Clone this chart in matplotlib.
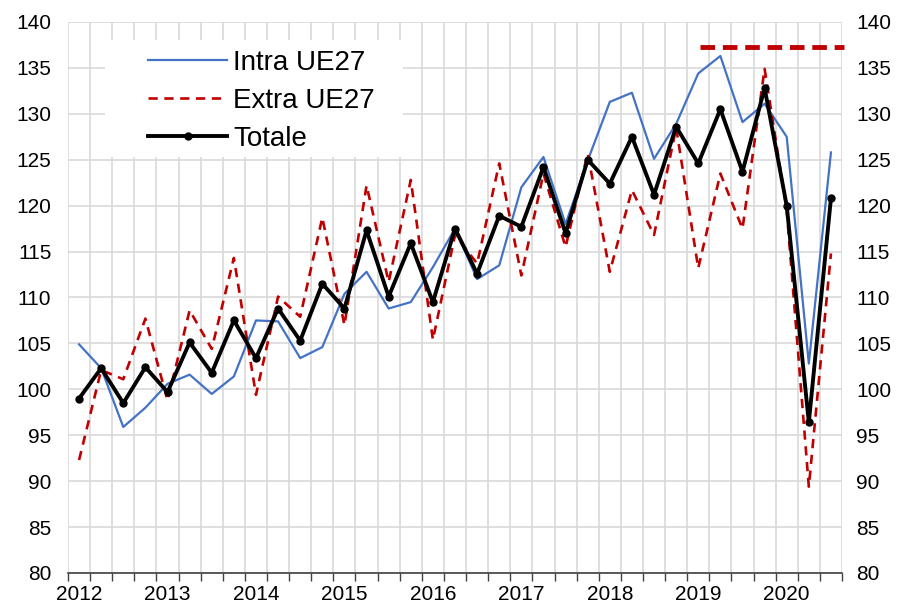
import numpy as np
import matplotlib.pyplot as plt
from matplotlib.ticker import FixedLocator
from matplotlib.patches import Rectangle

# quarterly indices, 2012Q1 .. 2020Q3
years = [str(y) for y in range(2012, 2021)]
intra = [104.9, 102.3, 95.9, 98.0, 100.6, 101.6, 99.5, 101.4, 107.5, 107.4,
         103.4, 104.6, 110.4, 112.8, 108.8, 109.5, 113.3, 117.5, 112.0, 113.5,
         122.0, 125.3, 118.0, 124.9, 131.3, 132.3, 125.1, 128.9, 134.4, 136.3,
         129.1, 131.1, 127.5, 102.8, 125.8]
extra = [92.3, 102.1, 101.1, 107.7, 98.8, 108.6, 104.4, 114.3, 99.4, 110.1,
         107.9, 118.7, 107.0, 122.2, 111.7, 122.8, 105.4, 116.8, 113.7, 124.6,
         112.4, 123.5, 115.5, 125.7, 112.8, 121.7, 116.8, 128.5, 113.2, 123.5,
         117.5, 134.9, 119.5, 89.4, 114.8]
totale = [99.0, 102.3, 98.5, 102.4, 99.7, 105.1, 101.8, 107.5, 103.4, 108.8,
          105.3, 111.5, 108.8, 117.3, 110.1, 115.9, 109.5, 117.5, 112.6, 118.9,
          117.7, 124.2, 117.0, 125.0, 122.4, 127.5, 121.2, 128.6, 124.6, 130.5,
          123.7, 132.8, 120.0, 96.4, 120.8]
# stray dashed segment at the top right of the original chart
stray_level = 137.3
stray_start = 28.1

plt.rcParams['font.family'] = ['Liberation Sans', 'DejaVu Sans']

fig = plt.figure(figsize=(9.02, 6.09), dpi=100)
ax = fig.add_axes([68/902, 1 - 573/609, 774/902, 551/609])

x = np.arange(len(totale))
grid_col = '#d9d9d9'

ax.plot(x, intra, color='#4472c4', lw=1.6, label='Intra UE27', zorder=3)
ax.plot(x, extra, color='#c00000', lw=1.9, ls=(0, (3.5, 2.5)), label='Extra UE27', zorder=3)
ax.plot(x, totale, color='black', lw=2.8, marker='o', ms=5, label='Totale', zorder=4)
ax.plot([stray_start, len(totale) - 0.4], [stray_level] * 2, color='#c00000', lw=3.5,
        ls=(0, (3, 1.6)), clip_on=False, zorder=3)

ax.set_xlim(-0.5, len(totale) - 0.5)
ax.set_ylim(80, 140)
ax.set_yticks(np.arange(80, 141, 5))
ax.set_xticks(np.arange(0, len(totale), 4))
ax.set_xticklabels(years)
ax.xaxis.set_minor_locator(FixedLocator(np.arange(-0.5, len(totale), 1)))

ax.grid(axis='y', color=grid_col, lw=1.2, zorder=0)
ax.grid(axis='x', which='minor', color=grid_col, lw=1.2, zorder=0)
ax.tick_params(axis='x', which='major', length=0, pad=9, labelsize=15)
ax.tick_params(axis='x', which='minor', length=6, color='#404040', width=1)
ax.tick_params(axis='y', length=0, pad=12, labelsize=15)
for side in ['left', 'right', 'top']:
    ax.spines[side].set_visible(False)
ax.spines['bottom'].set_color('#404040')
ax.spines['bottom'].set_linewidth(1.2)

ax2 = ax.twinx()
ax2.set_ylim(80, 140)
ax2.set_yticks(np.arange(80, 141, 5))
ax2.tick_params(axis='y', length=0, pad=10, labelsize=15)
for side in ['left', 'right', 'top', 'bottom']:
    ax2.spines[side].set_visible(False)

# white legend area hiding the gridlines
ax.add_patch(Rectangle((0.048, 0.755), 0.385, 0.212, transform=ax.transAxes,
                       facecolor='white', edgecolor='none', zorder=2))
leg = ax.legend(loc='upper left', bbox_to_anchor=(0.075, 0.99), fontsize=20,
                frameon=False, handlelength=2.85, handletextpad=0.2,
                labelspacing=0.43, borderpad=0.3)
leg.set_zorder(5)

fig.savefig('out.png', dpi=100)
